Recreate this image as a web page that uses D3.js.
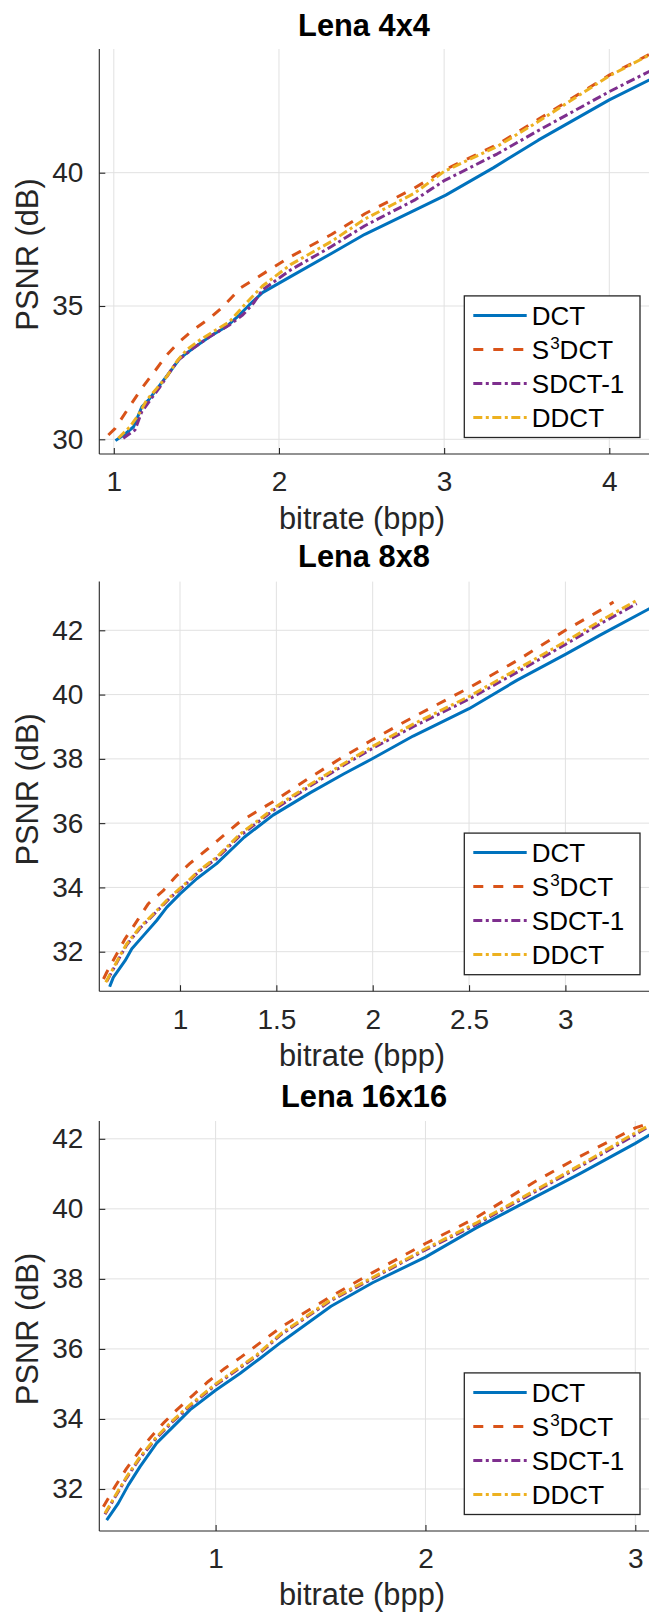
<!DOCTYPE html>
<html>
<head>
<meta charset="utf-8">
<script src="https://cdn.jsdelivr.net/npm/d3@7"></script>
<style>
  html, body { margin: 0; padding: 0; background: #ffffff; }
  svg { display: block; font-family: "Liberation Sans", Arial, Helvetica, sans-serif; }
</style>
</head>
<body>
<svg id="chart" width="649" height="1615"></svg>
<script>
// ---- data -------------------------------------------------------------
const seriesNames = ["DCT", "S3DCT", "SDCT-1", "DDCT"];
const seriesColors = ["#0072BD", "#D95319", "#7E2F8E", "#EDB120"];

const xLabel = "bitrate (bpp)";
const yLabel = "PSNR (dB)";

// Lena 4x4
const lena4Title = "Lena 4x4";
const lena4XTicks = [1, 2, 3, 4];
const lena4YTicks = [30, 35, 40];
const lena4DctX = [1.01, 1.06, 1.12, 1.17, 1.21, 1.28, 1.34, 1.40, 1.48, 1.58, 1.68, 1.76, 1.82, 1.90, 2.07, 2.32, 2.52, 2.82, 3.01, 3.30, 3.57, 4.0, 4.3];
const lena4DctY = [29.95, 30.16, 30.47, 31.22, 31.47, 32.04, 32.53, 33.04, 33.41, 33.85, 34.22, 34.66, 35.04, 35.5, 36.1, 36.98, 37.69, 38.59, 39.16, 40.19, 41.22, 42.73, 43.66];
const lena4S3dctX = [0.967, 1.007, 1.088, 1.169, 1.25, 1.32, 1.39, 1.48, 1.58, 1.66, 1.77, 1.92, 2.07, 2.32, 2.52, 2.82, 3.0, 3.32, 3.57, 4.0, 4.3];
const lena4S3dctY = [30.16, 30.4, 31.16, 31.91, 32.57, 33.16, 33.62, 34.1, 34.54, 34.97, 35.69, 36.27, 36.85, 37.69, 38.46, 39.42, 40.1, 41.05, 42.0, 43.66, 44.62];
const lena4SdctX = [1.057, 1.128, 1.169, 1.22, 1.28, 1.34, 1.39, 1.48, 1.58, 1.70, 1.78, 1.845, 1.9, 2.07, 2.32, 2.52, 2.82, 3.0, 3.32, 3.57, 4.0, 4.3];
const lena4SdctY = [30.04, 30.35, 31.03, 31.47, 31.97, 32.53, 32.97, 33.41, 33.85, 34.29, 34.66, 35.1, 35.6, 36.35, 37.24, 38.01, 38.97, 39.7, 40.7, 41.58, 43.04, 43.98];
const lena4DdctX = [1.027, 1.098, 1.148, 1.199, 1.26, 1.32, 1.38, 1.44, 1.52, 1.60, 1.70, 1.80, 1.90, 2.07, 2.32, 2.52, 2.82, 3.0, 3.32, 3.57, 4.0, 4.3];
const lena4DdctY = [30.04, 30.47, 30.91, 31.47, 31.91, 32.35, 32.91, 33.35, 33.72, 34.03, 34.41, 35.1, 35.75, 36.55, 37.43, 38.26, 39.23, 40.05, 40.98, 41.92, 43.63, 44.6];

// Lena 8x8
const lena8Title = "Lena 8x8";
const lena8XTicks = [1, 1.5, 2, 2.5, 3];
const lena8YTicks = [32, 34, 36, 38, 40, 42];
const lena8DctX = [0.635, 0.654, 0.715, 0.75, 0.81, 0.879, 0.931, 1.0, 1.087, 1.19, 1.333, 1.483, 1.677, 1.849, 2.0, 2.21, 2.5, 2.75, 3.0, 3.18, 3.45];
const lena8DctY = [30.91, 31.2, 31.72, 32.09, 32.5, 32.97, 33.38, 33.8, 34.27, 34.74, 35.56, 36.25, 36.95, 37.53, 38.01, 38.71, 39.56, 40.45, 41.25, 41.85, 42.72];
const lena8S3dctX = [0.603, 0.62, 0.715, 0.784, 0.835, 0.913, 0.983, 1.05, 1.14, 1.31, 1.5, 1.677, 1.849, 2.0, 2.21, 2.5, 2.75, 3.0, 3.18, 3.25];
const lena8S3dctY = [31.15, 31.36, 32.4, 33.02, 33.49, 33.9, 34.37, 34.74, 35.18, 36.04, 36.73, 37.43, 38.07, 38.6, 39.3, 40.21, 41.06, 42.0, 42.62, 42.88];
const lena8SdctX = [0.62, 0.689, 0.723, 0.792, 0.879, 0.948, 1.026, 1.10, 1.19, 1.31, 1.5, 1.677, 1.849, 2.0, 2.21, 2.5, 2.75, 3.0, 3.18, 3.37];
const lena8SdctY = [31.08, 31.85, 32.21, 32.73, 33.25, 33.67, 34.08, 34.5, 34.9, 35.6, 36.47, 37.16, 37.8, 38.33, 39.0, 39.86, 40.7, 41.56, 42.2, 42.83];
const lena8DdctX = [0.615, 0.689, 0.723, 0.792, 0.879, 0.948, 1.026, 1.10, 1.19, 1.31, 1.5, 1.677, 1.849, 2.0, 2.21, 2.5, 2.75, 3.0, 3.18, 3.37];
const lena8DdctY = [31.05, 31.88, 32.24, 32.76, 33.28, 33.7, 34.11, 34.53, 34.94, 35.65, 36.52, 37.21, 37.85, 38.39, 39.08, 39.94, 40.79, 41.65, 42.29, 42.93];

// Lena 16x16
const lena16Title = "Lena 16x16";
const lena16XTicks = [1, 2, 3];
const lena16YTicks = [32, 34, 36, 38, 40, 42];
const lena16DctX = [0.481, 0.536, 0.584, 0.64, 0.719, 0.798, 0.878, 1.0, 1.116, 1.21, 1.314, 1.55, 1.748, 2.0, 2.24, 2.517, 2.734, 3.0, 3.1];
const lena16DctY = [31.11, 31.59, 32.11, 32.64, 33.31, 33.78, 34.26, 34.82, 35.3, 35.72, 36.2, 37.22, 37.89, 38.62, 39.45, 40.32, 41.0, 41.87, 42.22];
const lena16S3dctX = [0.465, 0.521, 0.576, 0.64, 0.687, 0.751, 0.815, 0.894, 0.965, 1.045, 1.124, 1.314, 1.55, 1.748, 2.0, 2.24, 2.517, 2.734, 3.0, 3.05];
const lena16S3dctY = [31.49, 32.07, 32.59, 33.11, 33.45, 33.88, 34.26, 34.69, 35.07, 35.45, 35.78, 36.63, 37.5, 38.18, 39.01, 39.74, 40.76, 41.49, 42.31, 42.41];
const lena16SdctX = [0.473, 0.529, 0.576, 0.64, 0.719, 0.798, 0.878, 1.0, 1.116, 1.196, 1.314, 1.55, 1.748, 2.0, 2.24, 2.517, 2.734, 3.0, 3.06];
const lena16SdctY = [31.28, 31.85, 32.32, 32.89, 33.46, 33.94, 34.37, 34.97, 35.46, 35.8, 36.42, 37.38, 38.01, 38.83, 39.55, 40.47, 41.2, 42.12, 42.33];
const lena16DdctX = [0.473, 0.529, 0.576, 0.64, 0.719, 0.798, 0.878, 1.0, 1.116, 1.196, 1.314, 1.55, 1.748, 2.0, 2.24, 2.517, 2.734, 3.0, 3.06];
const lena16DdctY = [31.31, 31.88, 32.35, 32.92, 33.49, 33.97, 34.4, 35.0, 35.49, 35.83, 36.45, 37.41, 38.04, 38.86, 39.59, 40.51, 41.24, 42.17, 42.36];

// ---- layout & styles --------------------------------------------------
const W = 649;
const axisColor = "#262626";
const gridColor = "#e1e1e1";
const tickFont = 28;
const labelFont = 30.8;
const legendFont = 26;
const lineWidth = 3;
const dashStyles = [null, "10,10", "9,3.5,3,3.5", "9,3.5,3,3.5"];

const panels = [
  {
    title: lena4Title, xTicks: lena4XTicks, yTicks: lena4YTicks,
    xs: [lena4DctX, lena4S3dctX, lena4SdctX, lena4DdctX],
    ys: [lena4DctY, lena4S3dctY, lena4SdctY, lena4DdctY],
    left: 99.3, top: 49, bottom: 454,
    xPx: [113.8, 609.3], yPx: [439.3, 172.7],
    titleY: 35.5, xLabelY: 529
  },
  {
    title: lena8Title, xTicks: lena8XTicks, yTicks: lena8YTicks,
    xs: [lena8DctX, lena8S3dctX, lena8SdctX, lena8DdctX],
    ys: [lena8DctY, lena8S3dctY, lena8SdctY, lena8DdctY],
    left: 99.3, top: 581.6, bottom: 991.2,
    xPx: [180, 565.4], yPx: [951.7, 630.3],
    titleY: 566.5, xLabelY: 1066
  },
  {
    title: lena16Title, xTicks: lena16XTicks, yTicks: lena16YTicks,
    xs: [lena16DctX, lena16S3dctX, lena16SdctX, lena16DdctX],
    ys: [lena16DctY, lena16S3dctY, lena16SdctY, lena16DdctY],
    left: 99.3, top: 1121, bottom: 1531,
    xPx: [215.6, 635.3], yPx: [1489, 1138.8],
    titleY: 1106.5, xLabelY: 1605
  }
];

const svg = d3.select("#chart");

panels.forEach((p, pi) => {
  const g = svg.append("g");
  const x = d3.scaleLinear()
    .domain([p.xTicks[0], p.xTicks[p.xTicks.length - 1]])
    .range(p.xPx);
  const y = d3.scaleLinear()
    .domain([p.yTicks[0], p.yTicks[p.yTicks.length - 1]])
    .range(p.yPx);

  // grid
  g.append("g").selectAll("line.vg").data(p.xTicks).join("line")
    .attr("x1", d => x(d)).attr("x2", d => x(d))
    .attr("y1", p.top).attr("y2", p.bottom)
    .attr("stroke", gridColor).attr("stroke-width", 1);
  g.append("g").selectAll("line.hg").data(p.yTicks).join("line")
    .attr("x1", p.left).attr("x2", W + 5)
    .attr("y1", d => y(d)).attr("y2", d => y(d))
    .attr("stroke", gridColor).attr("stroke-width", 1);

  // curves
  const clipId = "clip" + pi;
  svg.append("clipPath").attr("id", clipId).append("rect")
    .attr("x", p.left).attr("y", p.top)
    .attr("width", W - p.left + 5).attr("height", p.bottom - p.top);

  const line = d3.line().x(d => x(d[0])).y(d => y(d[1]));
  const curves = g.append("g").attr("clip-path", `url(#${clipId})`);
  seriesNames.forEach((name, si) => {
    const pts = p.xs[si].map((v, k) => [v, p.ys[si][k]]);
    curves.append("path")
      .attr("d", line(pts))
      .attr("fill", "none")
      .attr("stroke", seriesColors[si])
      .attr("stroke-width", lineWidth)
      .attr("stroke-linejoin", "round")
      .attr("stroke-dasharray", dashStyles[si]);
  });

  // axes lines
  g.append("line")
    .attr("x1", p.left).attr("x2", p.left)
    .attr("y1", p.top).attr("y2", p.bottom)
    .attr("stroke", axisColor).attr("stroke-width", 1.1);
  g.append("line")
    .attr("x1", p.left).attr("x2", W + 5)
    .attr("y1", p.bottom).attr("y2", p.bottom)
    .attr("stroke", axisColor).attr("stroke-width", 1.1);

  // ticks + labels
  const yAxis = d3.axisLeft(y).tickValues(p.yTicks).tickSize(-6).tickPadding(16)
    .tickFormat(d3.format("d"));
  const ya = g.append("g").attr("transform", `translate(${p.left},0)`).call(yAxis);
  const xAxis = d3.axisBottom(x).tickValues(p.xTicks).tickSize(-6).tickPadding(17.5)
    .tickFormat(d => String(d));
  const xa = g.append("g").attr("transform", `translate(0,${p.bottom})`).call(xAxis);
  [ya, xa].forEach(a => {
    a.select(".domain").remove();
    a.selectAll(".tick line").attr("stroke", axisColor).attr("stroke-width", 1.1);
    a.selectAll(".tick text")
      .attr("fill", axisColor)
      .attr("font-size", tickFont)
      .attr("font-family", "Liberation Sans, Arial, sans-serif");
  });

  // title and axis labels
  g.append("text")
    .attr("x", 364).attr("y", p.titleY)
    .attr("text-anchor", "middle")
    .attr("font-weight", "bold")
    .attr("font-size", labelFont)
    .attr("fill", "#000")
    .text(p.title);
  g.append("text")
    .attr("x", 362).attr("y", p.xLabelY)
    .attr("text-anchor", "middle")
    .attr("font-size", labelFont)
    .attr("fill", axisColor)
    .text(xLabel);
  g.append("text")
    .attr("transform", `translate(37.5,${(p.top + p.bottom) / 2 + 3}) rotate(-90)`)
    .attr("text-anchor", "middle")
    .attr("font-size", labelFont)
    .attr("fill", axisColor)
    .text(yLabel);

  // legend
  const lgW = 175.7, lgH = 141.6;
  const lgX = 464.3, lgY = p.bottom - 16.5 - lgH;
  const lg = g.append("g").attr("transform", `translate(${lgX},${lgY})`);
  lg.append("rect")
    .attr("width", lgW).attr("height", lgH)
    .attr("fill", "#ffffff")
    .attr("stroke", axisColor).attr("stroke-width", 1.3);
  seriesNames.forEach((name, si) => {
    const ry = 19.5 + si * 34;
    lg.append("line")
      .attr("x1", 9).attr("x2", 62.4)
      .attr("y1", ry).attr("y2", ry)
      .attr("stroke", seriesColors[si])
      .attr("stroke-width", lineWidth)
      .attr("stroke-dasharray", dashStyles[si]);
    const t = lg.append("text")
      .attr("x", 67.5).attr("y", ry + 9.4)
      .attr("font-size", legendFont)
      .attr("fill", "#000");
    if (name === "S3DCT") {
      t.append("tspan").text("S");
      t.append("tspan").attr("font-size", 17).attr("dy", -9.5).attr("dx", 1).text("3");
      t.append("tspan").attr("dy", 9.5).text("DCT");
    } else {
      t.text(name);
    }
  });
});
</script>
</body>
</html>
